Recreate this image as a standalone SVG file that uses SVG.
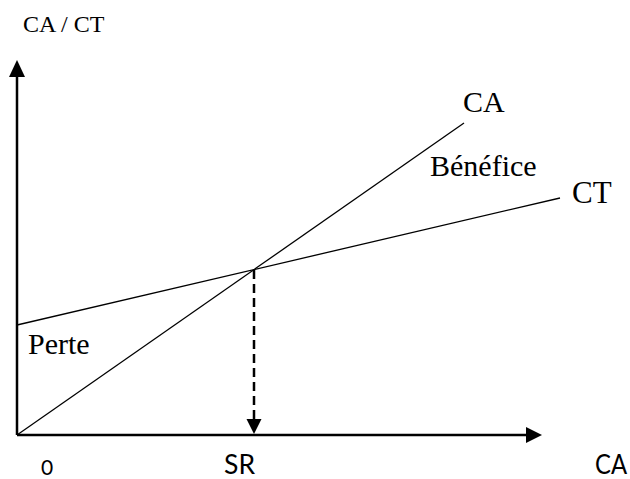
<svg xmlns="http://www.w3.org/2000/svg" width="630" height="479" viewBox="0 0 630 479">
  <style>
    .axis { stroke: #000; stroke-width: 2.5; fill: none; }
    .curve { stroke: #000; stroke-width: 1.3; fill: none; }
    .drop { stroke: #000; stroke-width: 2.5; fill: none; stroke-dasharray: 9 5; }
    .head { fill: #000; stroke: none; }
    .serif { font-family: "Liberation Serif", "Times New Roman", serif; fill: #000; }
    .sans { font-family: Lato, "Liberation Sans", sans-serif; fill: #000; }
  </style>
  <rect width="630" height="479" fill="#fff"/>

  <!-- axes -->
  <g id="axes">
    <line class="axis" x1="17" y1="435" x2="17" y2="74"/>
    <polygon class="head" points="17,60 9,77 25,77"/>
    <line class="axis" x1="17" y1="435" x2="529" y2="435"/>
    <polygon class="head" points="542,435 526,427 526,443"/>
  </g>

  <!-- revenue (CA) and total cost (CT) lines -->
  <g id="lines">
    <line id="line-ca" class="curve" x1="17" y1="435" x2="464" y2="123"/>
    <line id="line-ct" class="curve" x1="17" y1="325" x2="560" y2="198"/>
  </g>

  <!-- break-even drop to the horizontal axis -->
  <g id="break-even">
    <line class="drop" x1="254" y1="270" x2="254" y2="421"/>
    <polygon class="head" points="254,434 246.5,419 261.5,419"/>
  </g>

  <!-- labels -->
  <g id="labels">
    <text class="serif" x="23" y="32" font-size="24">CA / CT</text>
    <text class="serif" x="463" y="112" font-size="30">CA</text>
    <text class="serif" x="430" y="176" font-size="30">Bénéfice</text>
    <text class="serif" x="572" y="203" font-size="31">CT</text>
    <text class="serif" x="28" y="354" font-size="30">Perte</text>
    <text class="sans" x="41" y="475" font-size="21">0</text>
    <text class="sans" x="224" y="474" font-size="26" textLength="31" lengthAdjust="spacingAndGlyphs">SR</text>
    <text class="sans" x="595" y="474" font-size="26" textLength="32" lengthAdjust="spacingAndGlyphs">CA</text>
  </g>
</svg>
